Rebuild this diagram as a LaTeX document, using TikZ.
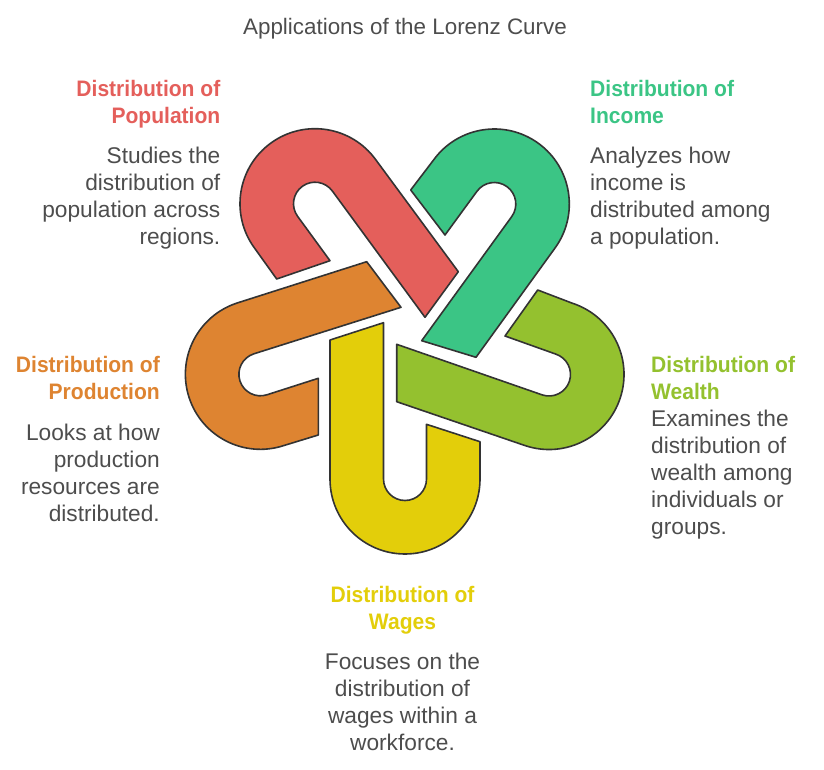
\documentclass[tikz,border=0pt]{standalone}
\usepackage{fontspec}
\setmainfont{Liberation Sans}
\newfontfamily\headfont[FakeStretch=0.94]{Liberation Sans}
\definecolor{cyel}{HTML}{E3CE0A}
\definecolor{cora}{HTML}{DE8431}
\definecolor{cred}{HTML}{E45F5B}
\definecolor{cgrn}{HTML}{3BC585}
\definecolor{clim}{HTML}{94C12F}
\definecolor{ctxt}{HTML}{4D4D4D}
\tikzset{
  link/.style={draw=black!80,line width=1.6pt,line join=round},
  ttl/.style={inner sep=0pt,font=\fontsize{22.4}{27}\selectfont,text=ctxt},
  head/.style={inner sep=0pt,font=\headfont\fontsize{22.4}{27}\selectfont\bfseries},
  body/.style={inner sep=0pt,font=\fontsize{22.7}{27}\selectfont,text=ctxt},
}
\begin{document}
\begin{tikzpicture}[x=1pt,y=1pt]
\useasboundingbox (0,0) rectangle (824,-770);
\foreach \ang/\col/\cen/\pa/\pb/\pd/\pe in {
  0/cyel/{405,-479}/{330,-340}/{383.5,-322.7}/{426.5,-424.3}/{480,-441.7},
  -72/cora/{260.4,-374.3}/{366.7,-261.7}/{401,-307.3}/{318.3,-378.3}/{318.3,-435},
  -144/cred/{315,-203.7}/{458.3,-271.7}/{425,-317.3}/{330,-260.7}/{276.7,-279},
  -216/cgrn/{494.3,-204}/{476,-357.3}/{421.7,-340.7}/{445,-235}/{410.7,-190},
  -288/clim/{549,-374.5}/{396.7,-401.7}/{396.7,-344.3}/{505,-336}/{537.7,-290}}{
  \fill[\col,link] (\pa) -- (\pb)
    -- ([shift={(180+\ang:21.5)}]\cen)
    arc[start angle=180+\ang,delta angle=180,radius=21.5]
    -- (\pd) -- (\pe)
    -- ([shift={(\ang:75)}]\cen)
    arc[start angle=\ang,delta angle=-180,radius=75] -- cycle;
}
\node[ttl,anchor=base] (title) at (405,-35) {Applications of the Lorenz Curve};
\node[head,text=cred,anchor=north east,align=right] (hpop) at (220.5,-80) {Distribution of\\Population};
\node[body,anchor=north east,align=right] (bpop) at (220.5,-147) {Studies the\\distribution of\\population across\\regions.};
\node[head,text=cgrn,anchor=north west,align=left] (hinc) at (590,-80) {Distribution of\\Income};
\node[body,anchor=north west,align=left] (binc) at (590,-147) {Analyzes how\\income is\\distributed among\\a population.};
\node[head,text=clim,anchor=north west,align=left] (hwea) at (651,-356) {Distribution of\\Wealth};
\node[body,anchor=north west,align=left] (bwea) at (651,-410) {Examines the\\distribution of\\wealth among\\individuals or\\groups.};
\node[head,text=cora,anchor=north east,align=right] (hpro) at (160,-356) {Distribution of\\Production};
\node[body,anchor=north east,align=right] (bpro) at (160,-424) {Looks at how\\production\\resources are\\distributed.};
\node[head,text=cyel,anchor=north,align=center] (hwag) at (402.5,-586) {Distribution of\\Wages};
\node[body,anchor=north,align=center] (bwag) at (402.5,-653) {Focuses on the\\distribution of\\wages within a\\workforce.};
\end{tikzpicture}
\end{document}
